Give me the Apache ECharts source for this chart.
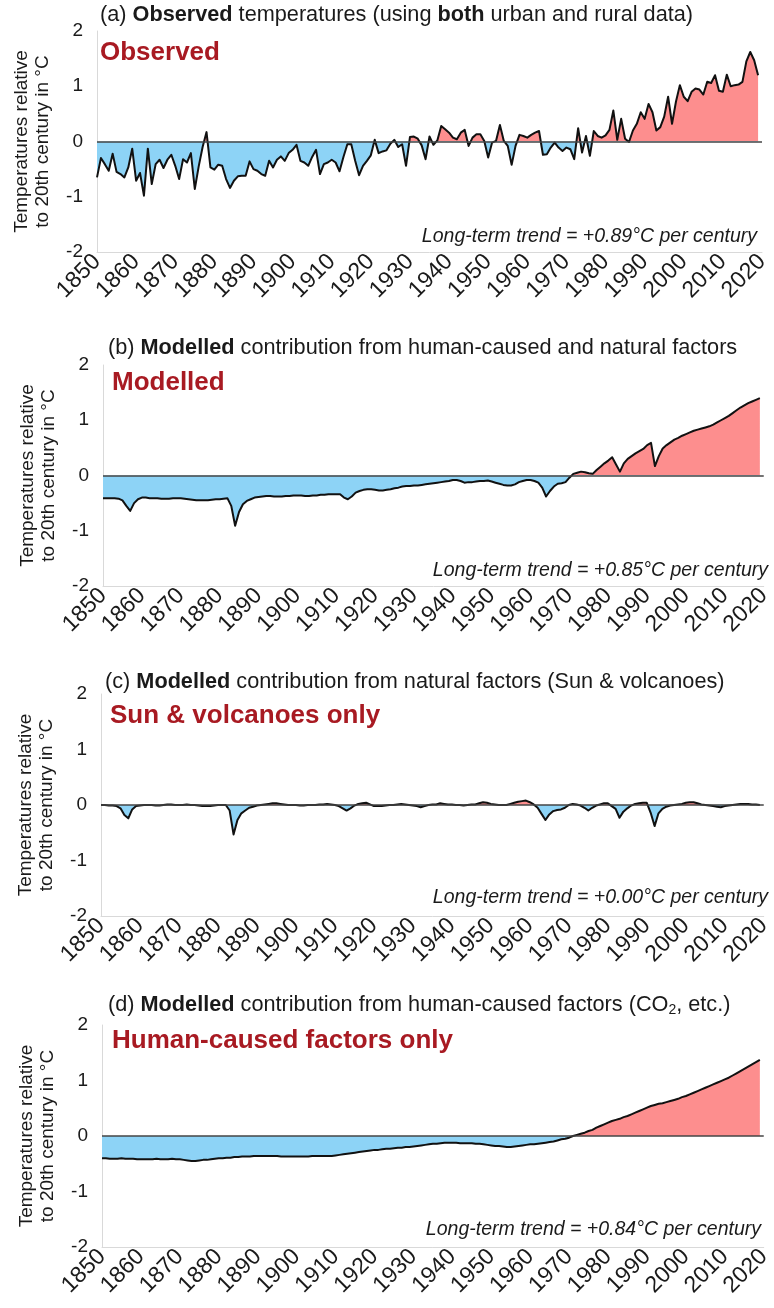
<!DOCTYPE html>
<html>
<head>
<meta charset="utf-8">
<script src="https://cdn.jsdelivr.net/npm/echarts@6/dist/echarts.min.js"></script>
<style>
  html, body { margin: 0; padding: 0; background: #ffffff; }
  #chart { width: 774px; height: 1308px; }
</style>
</head>
<body>
<div id="chart"></div>
<script>
// Annual temperature anomalies (°C, relative to the 20th-century mean), 1850–2019
const years = Array.from({ length: 170 }, (_, i) => 1850 + i);

const observed = [
  -0.65,-0.30,-0.41,-0.53,-0.22,-0.55,-0.59,-0.65,-0.47,-0.13,
  -0.71,-0.57,-0.98,-0.13,-0.77,-0.41,-0.33,-0.48,-0.33,-0.24,
  -0.44,-0.68,-0.32,-0.38,-0.21,-0.86,-0.45,-0.10, 0.17,-0.47,
  -0.51,-0.42,-0.44,-0.68,-0.84,-0.71,-0.63,-0.62,-0.62,-0.36,
  -0.50,-0.53,-0.59,-0.62,-0.35,-0.47,-0.33,-0.27,-0.35,-0.21,
  -0.15,-0.06,-0.35,-0.38,-0.44,-0.28,-0.15,-0.59,-0.41,-0.38,
  -0.33,-0.38,-0.54,-0.28,-0.05,-0.05,-0.35,-0.61,-0.44,-0.35,
  -0.25, 0.03,-0.21,-0.18,-0.16,-0.04, 0.03,-0.10,-0.05,-0.44,
   0.08, 0.09, 0.05,-0.07,-0.32, 0.09,-0.06, 0.02, 0.28, 0.22,
   0.16, 0.07, 0.04, 0.16, 0.21,-0.08, 0.07, 0.13, 0.13, 0.01,
  -0.29,-0.02, 0.01, 0.30, 0.01,-0.08,-0.42,-0.08, 0.12, 0.10,
   0.07, 0.12, 0.16, 0.19,-0.24,-0.23,-0.11,-0.02,-0.11,-0.17,
  -0.11,-0.14,-0.32, 0.24,-0.20, 0.10,-0.26, 0.19, 0.10, 0.07,
   0.11, 0.21, 0.56, 0.03, 0.41, 0.05,-0.01, 0.20, 0.32, 0.53,
   0.41, 0.68, 0.53, 0.20, 0.26, 0.45, 0.81, 0.32, 0.72, 1.02,
   0.81, 0.73, 0.90, 0.96, 0.94, 0.85, 1.08, 1.06, 1.20, 0.92,
   0.90, 1.21, 1.00, 1.02, 1.03, 1.08, 1.45, 1.62, 1.47, 1.20
];

const modelledAll = [
  -0.41,-0.41,-0.41,-0.41,-0.42,-0.45,-0.55,-0.64,-0.50,-0.43,
  -0.40,-0.40,-0.41,-0.41,-0.41,-0.42,-0.42,-0.42,-0.41,-0.41,
  -0.41,-0.42,-0.43,-0.44,-0.45,-0.45,-0.45,-0.45,-0.44,-0.43,
  -0.43,-0.42,-0.41,-0.55,-0.91,-0.66,-0.52,-0.46,-0.43,-0.40,
  -0.39,-0.38,-0.37,-0.37,-0.38,-0.38,-0.38,-0.37,-0.37,-0.36,
  -0.36,-0.36,-0.37,-0.37,-0.36,-0.36,-0.35,-0.35,-0.34,-0.34,
  -0.34,-0.34,-0.40,-0.43,-0.38,-0.31,-0.28,-0.26,-0.25,-0.25,
  -0.26,-0.27,-0.27,-0.26,-0.25,-0.23,-0.22,-0.20,-0.19,-0.19,
  -0.18,-0.18,-0.17,-0.16,-0.15,-0.14,-0.13,-0.12,-0.11,-0.10,
  -0.08,-0.08,-0.10,-0.13,-0.12,-0.12,-0.11,-0.10,-0.10,-0.09,
  -0.11,-0.13,-0.15,-0.17,-0.18,-0.18,-0.16,-0.12,-0.10,-0.08,
  -0.08,-0.10,-0.13,-0.22,-0.38,-0.28,-0.20,-0.15,-0.14,-0.12,
  -0.04, 0.03, 0.05, 0.07, 0.06, 0.04, 0.03, 0.10, 0.16, 0.22,
   0.27, 0.33, 0.20, 0.07, 0.22, 0.30, 0.35, 0.40, 0.44, 0.48,
   0.55, 0.59, 0.17, 0.35, 0.49, 0.55, 0.60, 0.65, 0.68, 0.72,
   0.75, 0.78, 0.81, 0.83, 0.85, 0.87, 0.89, 0.92, 0.96, 1.00,
   1.04, 1.08, 1.13, 1.18, 1.23, 1.27, 1.31, 1.34, 1.37, 1.40
];

const modelledNatural = [
   0.00, 0.00,-0.01,-0.01,-0.02,-0.06,-0.18,-0.24,-0.08,-0.02,
  -0.01, 0.00, 0.00, 0.00,-0.01,-0.01, 0.00, 0.01, 0.01, 0.00,
   0.00, 0.00, 0.01, 0.00, 0.00,-0.01,-0.02,-0.02,-0.02,-0.01,
   0.00, 0.00, 0.00,-0.10,-0.53,-0.27,-0.15,-0.10,-0.05,-0.03,
  -0.01, 0.00, 0.01, 0.02, 0.03, 0.03, 0.02, 0.01, 0.00, 0.00,
   0.00,-0.01,-0.01, 0.00, 0.00, 0.00, 0.01, 0.01, 0.02, 0.01,
   0.00,-0.02,-0.06,-0.10,-0.06,-0.01, 0.02, 0.03, 0.04, 0.01,
  -0.02,-0.02,-0.02,-0.01, 0.00, 0.00, 0.01, 0.02, 0.01, 0.00,
  -0.01,-0.02,-0.04,-0.02, 0.00, 0.01, 0.01, 0.03, 0.02, 0.01,
   0.01, 0.00, 0.00,-0.01, 0.00, 0.01, 0.01, 0.03, 0.05, 0.04,
   0.02, 0.01, 0.00, 0.00, 0.00, 0.02, 0.04, 0.06, 0.07, 0.08,
   0.05, 0.01,-0.05,-0.16,-0.27,-0.17,-0.11,-0.09,-0.08,-0.05,
   0.00, 0.02, 0.01,-0.01,-0.05,-0.10,-0.05,-0.01, 0.01, 0.03,
   0.03,-0.02,-0.07,-0.23,-0.12,-0.06,-0.01, 0.02, 0.03, 0.04,
   0.04,-0.14,-0.38,-0.15,-0.07,-0.03,-0.01, 0.00, 0.01, 0.02,
   0.04, 0.05, 0.05, 0.03, 0.01, 0.00,-0.01,-0.02,-0.03,-0.04,
  -0.02,-0.01, 0.00, 0.01, 0.02, 0.02, 0.02, 0.01, 0.01, 0.00
];

const modelledHuman = [
  -0.40,-0.40,-0.41,-0.41,-0.41,-0.40,-0.41,-0.41,-0.41,-0.42,
  -0.42,-0.42,-0.42,-0.42,-0.41,-0.42,-0.42,-0.42,-0.41,-0.42,
  -0.42,-0.43,-0.44,-0.45,-0.45,-0.44,-0.43,-0.43,-0.42,-0.41,
  -0.40,-0.40,-0.39,-0.39,-0.38,-0.38,-0.37,-0.37,-0.37,-0.36,
  -0.36,-0.36,-0.36,-0.36,-0.36,-0.36,-0.37,-0.37,-0.37,-0.37,
  -0.37,-0.37,-0.37,-0.37,-0.36,-0.36,-0.36,-0.36,-0.36,-0.36,
  -0.35,-0.34,-0.33,-0.32,-0.31,-0.30,-0.29,-0.28,-0.27,-0.26,
  -0.25,-0.25,-0.24,-0.23,-0.23,-0.22,-0.21,-0.21,-0.20,-0.20,
  -0.19,-0.18,-0.17,-0.16,-0.15,-0.14,-0.14,-0.13,-0.12,-0.12,
  -0.12,-0.12,-0.13,-0.13,-0.13,-0.13,-0.14,-0.14,-0.15,-0.16,
  -0.17,-0.18,-0.18,-0.19,-0.20,-0.20,-0.19,-0.18,-0.17,-0.16,
  -0.15,-0.15,-0.14,-0.13,-0.12,-0.11,-0.10,-0.08,-0.06,-0.05,
  -0.03, 0.00, 0.02, 0.04, 0.06, 0.09, 0.11, 0.15, 0.18, 0.21,
   0.24, 0.27, 0.29, 0.31, 0.34, 0.36, 0.39, 0.42, 0.45, 0.48,
   0.51, 0.54, 0.56, 0.58, 0.59, 0.61, 0.63, 0.65, 0.67, 0.70,
   0.72, 0.75, 0.78, 0.81, 0.84, 0.87, 0.90, 0.93, 0.96, 0.99,
   1.02, 1.05, 1.09, 1.13, 1.17, 1.21, 1.25, 1.29, 1.33, 1.37
];

// Panel texts
const panelTitles = [
  '(a) {b|Observed} temperatures (using {b|both} urban and rural data)',
  '(b) {b|Modelled} contribution from human-caused and natural factors',
  '(c) {b|Modelled} contribution from natural factors (Sun & volcanoes)',
  '(d) {b|Modelled} contribution from human-caused factors (CO{sub|2}, etc.)'
];
const panelTags = ['Observed', 'Modelled', 'Sun & volcanoes only', 'Human-caused factors only'];
const trendTexts = [
  'Long-term trend = +0.89°C per century',
  'Long-term trend = +0.85°C per century',
  'Long-term trend = +0.00°C per century',
  'Long-term trend = +0.84°C per century'
];
const panelSeries = [observed, modelledAll, modelledNatural, modelledHuman];
const yTicks = { min: -2, max: 2, step: 1 };
const xTicks = { min: 1850, max: 2020, step: 10 };
const yName = 'Temperatures relative\nto 20th century in °C';

// Layout of the four stacked panels (pixels)
const layout = [
  { left: 97,  width: 665, top: 31,   height: 221, titleTop: 3,   titleLeft: 100, tagTop: 38,   tagLeft: 100, trendTop: 226,  trendRight: 17 },
  { left: 103, width: 664, top: 365,  height: 221, titleTop: 336, titleLeft: 108, tagTop: 368,  tagLeft: 112, trendTop: 560,  trendRight: 6 },
  { left: 101, width: 664, top: 694,  height: 222, titleTop: 670, titleLeft: 105, tagTop: 701,  tagLeft: 110, trendTop: 887,  trendRight: 6 },
  { left: 102, width: 665, top: 1025, height: 222, titleTop: 993, titleLeft: 108, tagTop: 1026, tagLeft: 112, trendTop: 1219, trendRight: 13 }
];

const FONT = '"Liberation Sans", Arial, sans-serif';
const INK = '#1a1a1a';
const COOL = '#8dd3f6';
const WARM = '#fd8e8e';
const TAG_RED = '#a81a22';
const AXIS_GREY = '#d9d9d9';

const grids = [], xAxes = [], yAxes = [], series = [], titles = [];

layout.forEach((p, i) => {
  const pairs = years.map((y, k) => [y, panelSeries[i][k]]);

  grids.push({ left: p.left, top: p.top, width: p.width, height: p.height });

  xAxes.push({
    gridIndex: i, type: 'value', min: xTicks.min, max: xTicks.max, interval: xTicks.step,
    axisLine: { show: true, onZero: false, lineStyle: { color: AXIS_GREY, width: 1 } },
    axisTick: { show: false }, splitLine: { show: false },
    axisLabel: { rotate: 45, margin: 6, fontSize: 23, color: INK, fontFamily: FONT, formatter: v => String(v) }
  });

  yAxes.push({
    gridIndex: i, type: 'value', min: yTicks.min, max: yTicks.max, interval: yTicks.step,
    axisLine: { show: true, lineStyle: { color: AXIS_GREY, width: 1 } },
    axisTick: { show: false }, splitLine: { show: false },
    axisLabel: { margin: 14, fontSize: 19, color: INK, fontFamily: FONT },
    name: yName, nameLocation: 'middle', nameRotate: 90, nameGap: 44,
    nameTextStyle: { fontSize: 19, lineHeight: 21, color: INK, fontFamily: FONT, align: 'center' }
  });

  // filled area between the curve and zero (blue below, red above)
  series.push({
    type: 'line', xAxisIndex: i, yAxisIndex: i, data: pairs,
    symbol: 'none', silent: true,
    lineStyle: { width: 0 },
    areaStyle: { opacity: 1 },
    z: 1
  });
  // the curve itself, plus the zero reference line
  series.push({
    type: 'line', xAxisIndex: i, yAxisIndex: i, data: pairs,
    symbol: 'none', silent: true,
    lineStyle: { color: '#111111', width: 2, join: 'round' },
    markLine: {
      silent: true, symbol: 'none', label: { show: false },
      lineStyle: { color: '#444444', width: 1.5, type: 'solid' },
      data: [{ yAxis: 0 }]
    },
    z: 3
  });

  titles.push({
    text: panelTitles[i], left: p.titleLeft, top: p.titleTop, padding: 0,
    textStyle: {
      fontSize: 21.7, fontWeight: 'normal', color: INK, fontFamily: FONT, lineHeight: 24,
      rich: {
        b: { fontSize: 21.7, fontWeight: 'bold', color: INK, fontFamily: FONT, lineHeight: 24 },
        sub: { fontSize: 14, color: INK, fontFamily: FONT, lineHeight: 13, verticalAlign: 'bottom' }
      }
    }
  });
  titles.push({
    text: panelTags[i], left: p.tagLeft, top: p.tagTop, padding: 0,
    textStyle: { fontSize: 26, fontWeight: 'bold', color: TAG_RED, fontFamily: FONT, lineHeight: 30 }
  });
  titles.push({
    text: trendTexts[i], right: p.trendRight, top: p.trendTop, padding: 0,
    textStyle: { fontSize: 19.5, fontStyle: 'italic', fontWeight: 'normal', color: INK, fontFamily: FONT, lineHeight: 22 }
  });
});

const chart = echarts.init(document.getElementById('chart'), null, { renderer: 'canvas' });
chart.setOption({
  animation: false,
  backgroundColor: '#ffffff',
  title: titles,
  grid: grids,
  xAxis: xAxes,
  yAxis: yAxes,
  visualMap: {
    type: 'piecewise', show: false, dimension: 1,
    seriesIndex: [0, 2, 4, 6],
    pieces: [{ gte: -10, lt: 0, color: COOL }, { gte: 0, lte: 10, color: WARM }]
  },
  series: series
});
</script>
</body>
</html>
